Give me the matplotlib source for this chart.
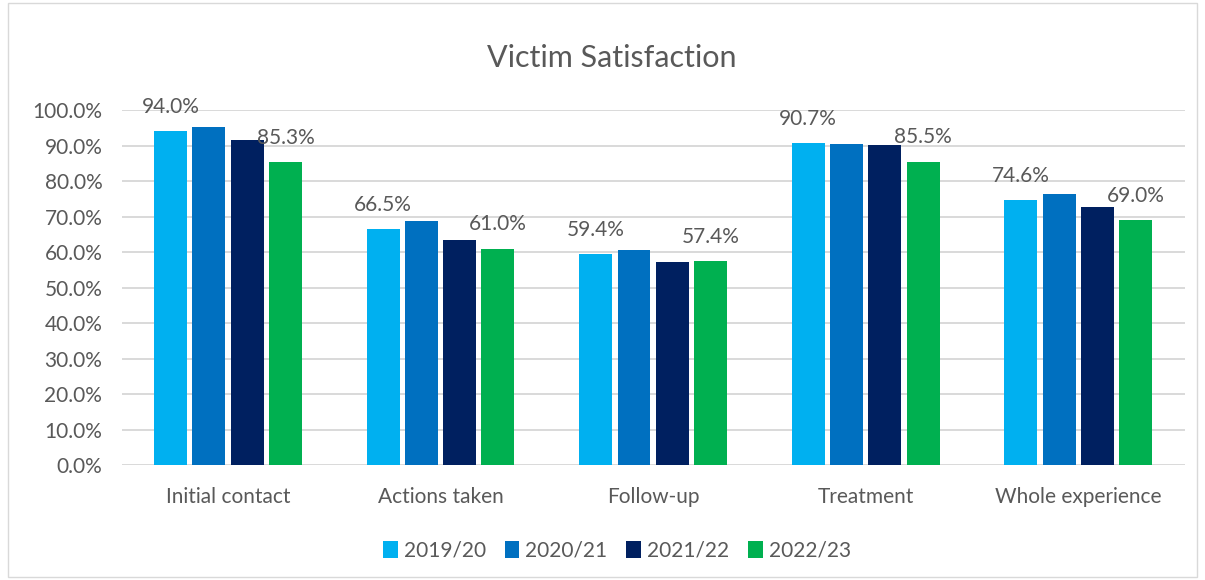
import matplotlib.pyplot as plt
from matplotlib.patches import Rectangle
from matplotlib.ticker import FuncFormatter
import numpy as np

categories = ["Initial contact", "Actions taken", "Follow-up", "Treatment", "Whole experience"]
years = ["2019/20", "2020/21", "2021/22", "2022/23"]
y2019 = [94.0, 66.5, 59.4, 90.7, 74.6]
y2020 = [95.2, 68.8, 60.6, 90.6, 76.4]
y2021 = [91.6, 63.5, 57.3, 90.1, 72.8]
y2022 = [85.3, 61.0, 57.4, 85.5, 69.0]
colors = ["#00B0F0", "#0070C0", "#002060", "#00B050"]

plt.rcParams['font.family'] = ['Lato', 'DejaVu Sans']
text_col = "#595959"

fig = plt.figure(figsize=(12.05, 5.8), dpi=100)
ax = fig.add_axes([0.101, 0.198, 0.882, 0.612])

x = np.arange(len(categories))
step = 0.18
width = 0.155
series = [y2019, y2020, y2021, y2022]
for i, (vals, col, lab) in enumerate(zip(series, colors, years)):
    pos = x + (i - 1.5) * step
    bars = ax.bar(pos, [v / 100 for v in vals], width, color=col, label=lab, zorder=3)
    if i in (0, 3):
        for b, v in zip(bars, vals):
            ax.text(b.get_x() + b.get_width() / 2, v / 100 + 0.04, f"{v:.1f}%",
                    ha='center', va='bottom', fontsize=15, color=text_col, zorder=4)

ax.set_ylim(0, 1.0)
ax.set_xlim(-0.5, 4.5)
ax.set_yticks(np.arange(0, 1.01, 0.1))
ax.yaxis.set_major_formatter(FuncFormatter(lambda v, p: f"{v * 100:.1f}%"))
ax.set_xticks(x)
ax.set_xticklabels(categories)
ax.tick_params(axis='both', length=0, labelsize=15, colors=text_col)
ax.tick_params(axis='y', pad=14)
ax.tick_params(axis='x', pad=16)
ax.grid(axis='y', color="#D9D9D9", linewidth=1.4, zorder=0)
for s in ax.spines.values():
    s.set_visible(False)

fig.text(0.508, 0.90, "Victim Satisfaction", ha='center', va='center', fontsize=22, color=text_col)

ax.legend(loc='upper center', bbox_to_anchor=(0.466, -0.16), ncol=4, frameon=False,
          fontsize=15, labelcolor=text_col, handlelength=0.7, handleheight=0.9,
          handletextpad=0.3, columnspacing=0.9)

fig.patches.append(Rectangle((0.007, 0.005), 0.986, 0.99, transform=fig.transFigure,
                             fill=False, edgecolor="#D9D9D9", linewidth=1))

fig.savefig("out.png", dpi=100)
